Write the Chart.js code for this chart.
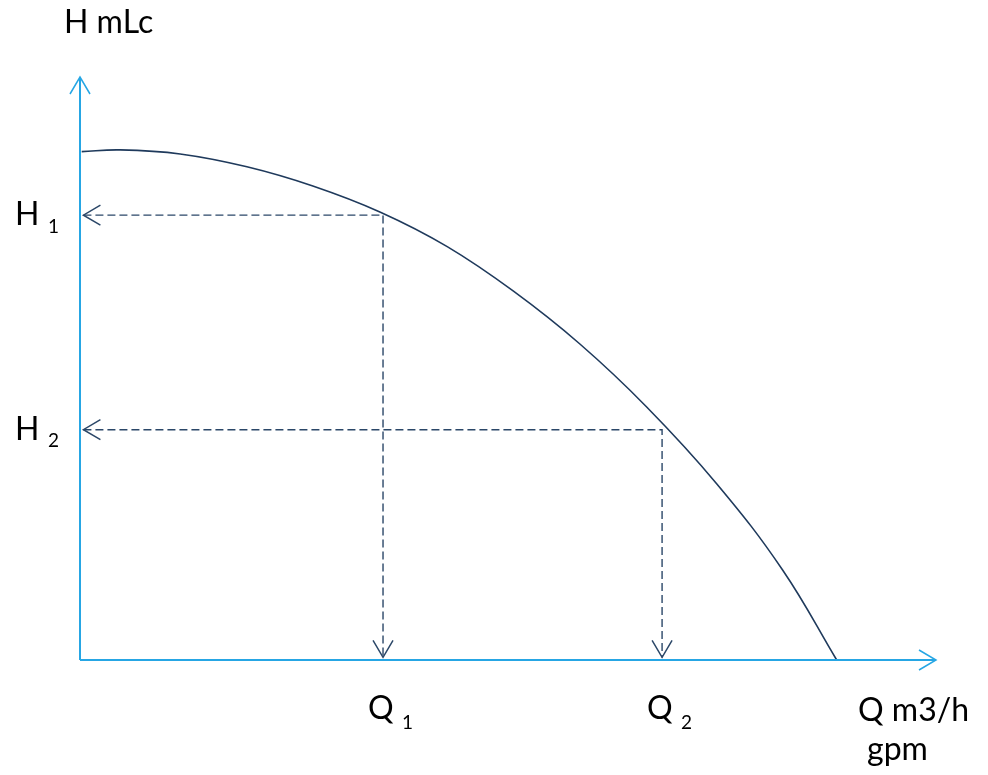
<!DOCTYPE html>
<html>
<head>
<meta charset="utf-8">
<script src="https://cdn.jsdelivr.net/npm/chart.js@4"></script>
<style>
  html, body { margin: 0; padding: 0; background: #ffffff; }
  #wrap { width: 988px; height: 775px; }
</style>
</head>
<body>
<div id="wrap"><canvas id="c" width="988" height="775"></canvas></div>
<script>
// ---- Data (arbitrary units: Q and H each on a 0..100 range) ----
const curveQ = [0.2, 4.7, 11.7, 19.5, 27.2, 35.1, 42.9, 50.6, 58.4, 66.2, 74.4, 82.1, 88.4];
const curveH = [87.2, 87.5, 86.8, 84.6, 81.3, 76.8, 70.9, 63.3, 54.2, 43.4, 30.2, 15.4, 0];
const opQ = [35.4, 68.0];   // Q1, Q2
const opH = [76.3, 39.5];   // H1, H2
const opNames = ['1', '2'];
const axisTitleY = 'H mLc';
const axisTitleX = ['Q m3/h', 'gpm'];

const AXIS_COLOR = '#26a6e4';
const CURVE_COLOR = '#1f3a5c';
const DASH_COLOR = '#2b4768';

const datasets = [
  { label: 'yaxis', data: [{x: 0, y: 0}, {x: 0, y: 100}], borderColor: AXIS_COLOR, borderWidth: 2 },
  { label: 'xaxis', data: [{x: 0, y: 0}, {x: 100, y: 0}], borderColor: AXIS_COLOR, borderWidth: 2 },
  { label: 'curve', data: curveQ.map((q, i) => ({x: q, y: curveH[i]})), borderColor: CURVE_COLOR, borderWidth: 1.6, tension: 0.4 }
];
opQ.forEach((q, i) => {
  datasets.push({
    label: 'op' + opNames[i],
    data: [{x: 0.4, y: opH[i]}, {x: q, y: opH[i]}, {x: q, y: 0.45}],
    borderColor: DASH_COLOR, borderWidth: 1.4, borderDash: [8, 4]
  });
});
datasets.forEach(d => { d.pointRadius = 0; d.showLine = true; d.fill = false; d.clip = false; d.tension = d.tension || 0; });

function arrow(ctx, x, y, dx, dy, color) {
  const L = 17, W = 10;
  const px = -dy, py = dx;
  ctx.save();
  ctx.strokeStyle = color; ctx.lineWidth = 1.5; ctx.setLineDash([]);
  ctx.beginPath();
  ctx.moveTo(x - dx * L + px * W, y - dy * L + py * W);
  ctx.lineTo(x, y);
  ctx.lineTo(x - dx * L - px * W, y - dy * L - py * W);
  ctx.stroke();
  ctx.restore();
}

const decor = {
  id: 'decor',
  afterDatasetsDraw(chart) {
    const ctx = chart.ctx;
    const xs = chart.scales.x, ys = chart.scales.y;
    // axis arrows
    arrow(ctx, xs.getPixelForValue(0), ys.getPixelForValue(100), 0, -1, AXIS_COLOR);
    arrow(ctx, xs.getPixelForValue(100), ys.getPixelForValue(0), 1, 0, AXIS_COLOR);
    // operating point arrows
    opQ.forEach((q, i) => {
      arrow(ctx, xs.getPixelForValue(0.4), ys.getPixelForValue(opH[i]), -1, 0, DASH_COLOR);
      arrow(ctx, xs.getPixelForValue(q), ys.getPixelForValue(0.45), 0, 1, DASH_COLOR);
    });
    // texts
    ctx.save();
    ctx.fillStyle = '#000';
    ctx.textBaseline = 'alphabetic';
    ctx.textAlign = 'left';
    const big = '32px Lato, "Open Sans", sans-serif';
    const small = '19px Lato, "Open Sans", sans-serif';
    ctx.font = big;
    ctx.fillText(axisTitleY, 64, 33);
    ctx.fillText(axisTitleX[0], 858, 721);
    ctx.fillText(axisTitleX[1], 867, 760);
    opH.forEach((h, i) => {
      const yp = ys.getPixelForValue(h);
      ctx.font = big; ctx.fillText('H', 15, yp + 10);
      ctx.font = small; ctx.fillText(opNames[i], 48, yp + 17.5);
    });
    opQ.forEach((q, i) => {
      const xp = xs.getPixelForValue(q);
      ctx.font = big; ctx.fillText('Q', xp - 15, 719);
      ctx.font = small; ctx.fillText(opNames[i], xp + 19, 729);
    });
    ctx.restore();
  }
};

new Chart(document.getElementById('c'), {
  type: 'scatter',
  data: { datasets },
  options: {
    responsive: false,
    animation: false,
    layout: { padding: { left: 80, right: 52, top: 77, bottom: 115 } },
    plugins: { legend: { display: false }, tooltip: { enabled: false } },
    scales: {
      x: { type: 'linear', min: 0, max: 100, display: false },
      y: { type: 'linear', min: 0, max: 100, display: false }
    }
  },
  plugins: [decor]
});
</script>
</body>
</html>
